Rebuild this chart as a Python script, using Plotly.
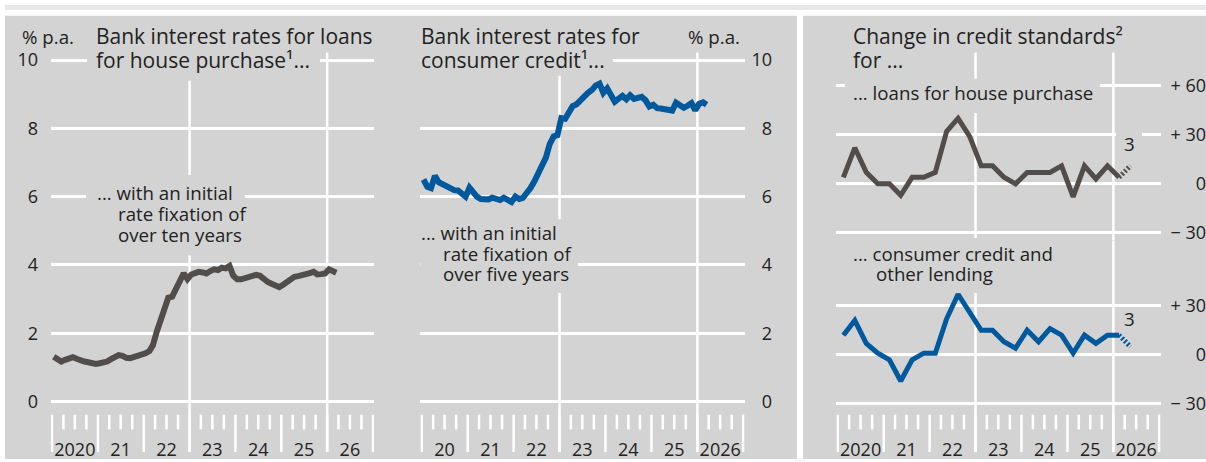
import pandas as pd
import plotly.graph_objects as go

W, H = 1206, 462

# ---------------- data ----------------
# monthly, Jan 2020 - Mar 2026, % p.a.
house_rate = [1.31, 1.25, 1.17, 1.22, 1.28, 1.30, 1.25, 1.20, 1.17, 1.15, 1.12, 1.10,
              1.12, 1.14, 1.17, 1.24, 1.30, 1.36, 1.34, 1.28, 1.27, 1.30, 1.34, 1.36,
              1.41, 1.48, 1.65, 2.05, 2.40, 2.75, 3.04, 3.07, 3.30, 3.55, 3.75, 3.58,
              3.72, 3.76, 3.80, 3.78, 3.75, 3.82, 3.87, 3.85, 3.92, 3.90, 3.97, 3.68,
              3.58, 3.58, 3.62, 3.65, 3.68, 3.71, 3.68, 3.58, 3.50, 3.45, 3.40, 3.35,
              3.42, 3.50, 3.58, 3.65, 3.67, 3.69, 3.71, 3.76, 3.80, 3.72, 3.73, 3.75,
              3.87, 3.82, 3.77]
consumer_rate = [6.50, 6.29, 6.25, 6.61, 6.42, 6.35, 6.29, 6.25, 6.19, 6.18, 6.10, 6.00,
                 6.26, 6.12, 6.00, 5.93, 5.91, 5.92, 5.97, 5.93, 5.90, 5.97, 5.92, 5.84,
                 6.00, 5.93, 5.96, 6.08, 6.25, 6.45, 6.67, 6.90, 7.15, 7.54, 7.76, 7.80,
                 8.30, 8.28, 8.50, 8.65, 8.70, 8.83, 8.95, 9.04, 9.12, 9.25, 9.31, 9.04,
                 9.17, 8.97, 8.78, 8.87, 8.95, 8.85, 8.97, 8.86, 8.88, 8.92, 8.82, 8.64,
                 8.69, 8.59, 8.58, 8.57, 8.56, 8.52, 8.75, 8.68, 8.60, 8.66, 8.74, 8.53,
                 8.72, 8.76, 8.69]
# quarterly, Q1 2020 - Q1 2026, net percentage balance
house_std = [4, 22, 7, 0, 0, -7, 4, 4, 7, 32, 40, 29, 11, 11, 4, 0, 7, 7, 7, 11, -8, 11, 3, 11, 4]
house_std_expected = 11
consumer_std = [12, 21, 7, 1, -3, -16, -3, 1, 1, 22, 37, 26, 15, 15, 8, 4, 15, 8, 16, 12, 1, 12, 7, 12, 12]
consumer_std_expected = 5

years = [2020, 2021, 2022, 2023, 2024, 2025, 2026]
year_labels_a = ["2020", "21", "22", "23", "24", "25", "26"]
year_labels_b = ["20", "21", "22", "23", "24", "25", "2026"]
year_labels_c = ["2020", "21", "22", "23", "24", "25", "2026"]
rate_ticks = [0, 2, 4, 6, 8, 10]
std_ticks_top = [-30, 0, 30, 60]
std_text_top = ["\u2212 30", "0", "+ 30", "+ 60"]
std_ticks_bottom = [-30, 0, 30]
std_text_bottom = ["\u2212 30", "0", "+ 30"]

monthly_dates = pd.date_range("2020-01-01", periods=len(house_rate), freq="MS") + pd.Timedelta(days=14)
quarter_dates = pd.date_range("2020-01-01", periods=len(house_std) + 1, freq="QS") + pd.Timedelta(days=45)

# ---------------- styling / geometry ----------------
FONT = "Open Sans"
TXT = "#222222"
PANEL = "#d3d3d3"
GREY = "#524d4a"
BLUE = "#00599c"
GRIDW = 2.5
SMALL = 18.7
BIG = 21


def px(x):
    return x / W


def py(y):
    return 1 - y / H


PLOT_TOP = 48
PLOT_BOT = 455
SPLIT = 240
TICK_TOP, TICK_MINOR, TICK_BOT = 417, 432, 455

X_START, X_END = pd.Timestamp("2020-01-01"), pd.Timestamp("2027-01-01")
PAD_DAYS = 10
SPAN_DAYS = (X_END - X_START).days
XRANGE = [str((X_START - pd.Timedelta(days=PAD_DAYS)).date()), str((X_END + pd.Timedelta(days=PAD_DAYS)).date())]

# pixel columns of 2020-01-01 and 2027-01-01 for each panel
PANEL_X = {"x": (52.0, 373.0), "x2": (421.7, 743.3), "x3": (837.7, 1159.3)}

# vertical pixel scales: (pixel of value 0, pixels per unit)
R0, R10 = 403.5, 56.0
RPPU = (R0 - R10) / 10
SPPU = 50 / 30
Y_SCALE = {"y": (R0, RPPU), "y2": (R0, RPPU), "y3": (182.0, SPPU), "y4": (356.0, SPPU)}
Y_DOM = {"y": (PLOT_TOP, PLOT_BOT), "y2": (PLOT_TOP, PLOT_BOT), "y3": (PLOT_TOP, SPLIT), "y4": (SPLIT, PLOT_BOT)}


def xdom(ax):
    left, right = PANEL_X[ax]
    ppd = (right - left) / SPAN_DAYS
    return [px(left - PAD_DAYS * ppd), px(right + PAD_DAYS * ppd)]


def xdate(ax, p):
    left, right = PANEL_X[ax]
    return X_START + pd.Timedelta(days=(p - left) / (right - left) * SPAN_DAYS)


def yval(ax, p):
    zero, ppu = Y_SCALE[ax]
    return (zero - p) / ppu


def yrange(ax):
    top, bot = Y_DOM[ax]
    return [yval(ax, bot), yval(ax, top)]


fig = go.Figure()

fig.add_trace(go.Scatter(x=monthly_dates, y=house_rate, mode="lines",
                         line=dict(color=GREY, width=6), xaxis="x", yaxis="y"))
fig.add_trace(go.Scatter(x=monthly_dates, y=consumer_rate, mode="lines",
                         line=dict(color=BLUE, width=6), xaxis="x2", yaxis="y2"))
fig.add_trace(go.Scatter(x=quarter_dates[:-1], y=house_std, mode="lines",
                         line=dict(color=GREY, width=5), xaxis="x3", yaxis="y3"))
fig.add_trace(go.Scatter(x=quarter_dates[-2:], y=[house_std[-1], house_std_expected], mode="lines",
                         line=dict(color=GREY, width=5, dash="2px,2px"), xaxis="x3", yaxis="y3"))
fig.add_trace(go.Scatter(x=quarter_dates[:-1], y=consumer_std, mode="lines",
                         line=dict(color=BLUE, width=5), xaxis="x3", yaxis="y4"))
fig.add_trace(go.Scatter(x=quarter_dates[-2:], y=[consumer_std[-1], consumer_std_expected], mode="lines",
                         line=dict(color=BLUE, width=5, dash="2px,2px"), xaxis="x3", yaxis="y4"))

tickfont = dict(family=FONT, size=18, color=TXT)
mid_years = [f"{y}-07-01" for y in years]


def xaxis(ax, anchor, labels):
    return dict(domain=xdom(ax), anchor=anchor, type="date", range=XRANGE,
                showgrid=False, zeroline=False, showline=False, ticks="", tickmode="array",
                tickvals=mid_years, ticktext=labels, tickfont=tickfont, fixedrange=True,
                ticklabelstandoff=-15)


def yaxis(ax, vals, text, pos):
    top, bot = Y_DOM[ax]
    return dict(domain=[py(bot), py(top)], range=yrange(ax), anchor="free", position=pos, side="left",
                tickmode="array", tickvals=vals, ticktext=text, showgrid=True,
                gridcolor="white", gridwidth=GRIDW, zeroline=False, showline=False,
                ticks="", tickfont=tickfont, fixedrange=True)


fig.update_layout(
    width=W, height=H, margin=dict(l=0, r=0, t=0, b=0),
    paper_bgcolor="white", plot_bgcolor="rgba(0,0,0,0)",
    showlegend=False, hovermode=False,
    font=dict(family=FONT, color=TXT),
    xaxis=xaxis("x", "y", year_labels_a),
    xaxis2=xaxis("x2", "y2", year_labels_b),
    xaxis3=xaxis("x3", "y4", year_labels_c),
    yaxis=yaxis("y", rate_ticks, [str(v) for v in rate_ticks], px(38)),
    yaxis2=yaxis("y2", rate_ticks, [str(v) for v in rate_ticks], px(772)),
    yaxis3=yaxis("y3", std_ticks_top, std_text_top, 1.0),
    yaxis4=yaxis("y4", std_ticks_bottom, std_text_bottom, 1.0),
)

shapes = []
# backgrounds (paper)
shapes.append(dict(type="rect", xref="paper", yref="paper", x0=px(5), x1=px(1206), y0=py(0), y1=py(5),
                   fillcolor="#e8e8e8", line=dict(width=0), layer="below"))
shapes.append(dict(type="rect", xref="paper", yref="paper", x0=px(5), x1=px(797), y0=py(11), y1=py(462),
                   fillcolor=PANEL, line=dict(width=0), layer="below"))
shapes.append(dict(type="rect", xref="paper", yref="paper", x0=px(803), x1=px(1206), y0=py(11), y1=py(462),
                   fillcolor=PANEL, line=dict(width=0), layer="below"))


def vline(xr, yr, date, p0, p1):
    shapes.append(dict(type="line", xref=xr, yref=yr, x0=date, x1=date,
                       y0=yval(yr, p0), y1=yval(yr, p1),
                       line=dict(color="white", width=GRIDW), layer="between"))


# tick marks and vertical grid lines
for xr, yr in [("x", "y"), ("x2", "y2"), ("x3", "y4")]:
    for yy in years + [2027]:
        vline(xr, yr, f"{yy}-01-01", TICK_BOT, TICK_TOP)
        if yy < 2027:
            for m in ["04", "07", "10"]:
                vline(xr, yr, f"{yy}-{m}-01", TICK_MINOR, TICK_TOP)
for yy in [2023, 2026]:
    vline("x", "y", f"{yy}-01-01", TICK_BOT, PLOT_TOP)
    vline("x2", "y2", f"{yy}-01-01", TICK_BOT, PLOT_TOP)
    vline("x3", "y3", f"{yy}-01-01", SPLIT, PLOT_TOP)
    vline("x3", "y4", f"{yy}-01-01", TICK_BOT, SPLIT)


def mask(xr, yr, x0, x1, y0, y1):
    shapes.append(dict(type="rect", xref=xr, yref=yr,
                       x0=xdate(xr, x0), x1=xdate(xr, x1), y0=yval(yr, y1), y1=yval(yr, y0),
                       fillcolor=PANEL, line=dict(width=0), layer="between"))


# masks behind text blocks (grid lines are interrupted there in the reference)
mask("x", "y", 87, 320, 44, 77)
mask("x", "y", 86, 245, 173, 255)
mask("x2", "y2", 415, 613, 44, 72)
mask("x2", "y2", 415, 578, 218, 293)
mask("x3", "y3", 845, 1100, 75, 110)
mask("x3", "y3", 845, 1060, 237, SPLIT + 1)
mask("x3", "y4", 845, 1060, SPLIT - 1, 293)
mask("x3", "y3", 1116, 1142, 128, 152)

fig.update_layout(shapes=shapes)

annotations = []


def label(text, x, y, size=SMALL):
    annotations.append(dict(text=text, xref="paper", yref="paper", x=px(x), y=py(y - 0.5),
                            xanchor="left", yanchor="middle", showarrow=False, align="left",
                            font=dict(family=FONT, size=size, color=TXT), borderpad=0, borderwidth=0))


# left panel
label("% p.a.", 22, 32.5)
label("Bank interest rates for loans", 96, 32.5, BIG)
label("for house purchase\u00b9...", 96, 56, BIG)
label("... with an initial", 97, 190.8)
label("rate fixation of", 118, 212.5)
label("over ten years", 118, 234)
# middle panel
label("Bank interest rates for", 421, 32.5, BIG)
label("consumer credit\u00b9...", 421, 56, BIG)
label("% p.a.", 688, 32.5)
label("... with an initial", 421, 232.5)
label("rate fixation of", 443, 253.5)
label("over five years", 443, 274)
# right panel
label("Change in credit standards\u00b2", 853, 32.5, BIG)
label("for ...", 853, 56, BIG)
label("... loans for house purchase", 853, 90)
label("... consumer credit and", 853, 253.5)
label("other lending", 876, 273.5)
label("3", 1124, 141.5)
label("3", 1124, 320)

fig.update_layout(annotations=annotations)

fig.write_html("out.html", config={"displayModeBar": False},
               post_script="document.body.style.margin='0';")
